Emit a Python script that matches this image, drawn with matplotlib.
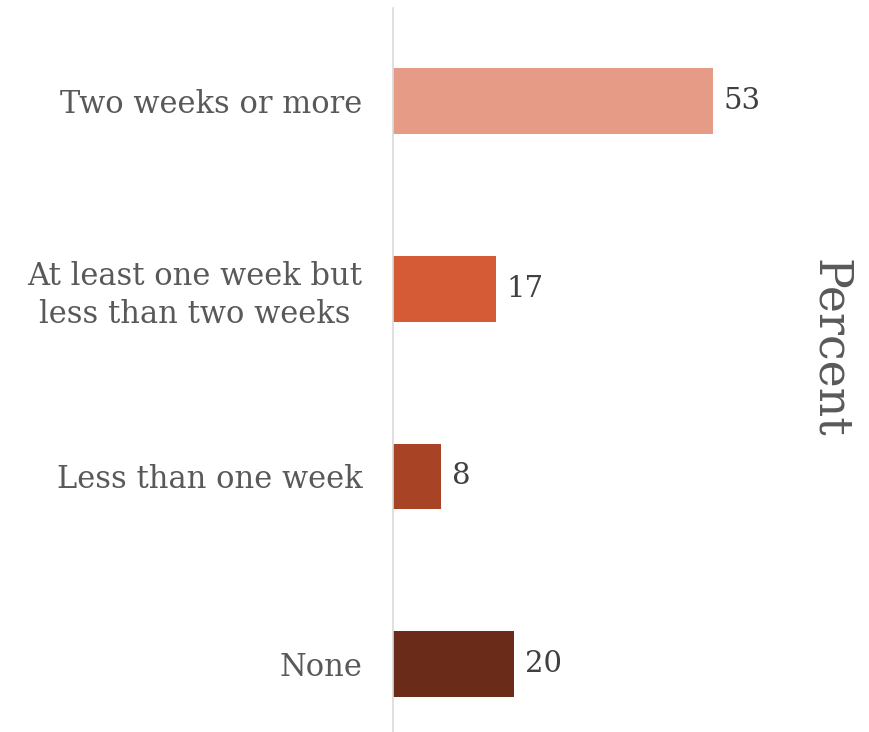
import matplotlib
matplotlib.use("Agg")
import matplotlib.pyplot as plt

categories = ["Two weeks or more",
              "At least one week but\nless than two weeks",
              "Less than one week",
              "None"]
values = [53, 17, 8, 20]
colors = ["#E69B87", "#D45B35", "#A84325", "#6B2B19"]

plt.rcParams['font.family'] = ['DejaVu Serif']

fig = plt.figure(figsize=(8.69, 7.32), dpi=100)
ax = fig.add_axes([0.452, 0.0, 0.518, 0.989])

pos = list(range(len(categories)))
ax.barh(pos, values, height=0.35, color=colors)
ax.set_ylim(3.362, -0.495)
ax.set_xlim(0, 74.5)

for p, v in zip(pos, values):
    ax.text(v + 1.8, p, str(v), va='center', ha='left', fontsize=21, color='#404040')

ax.set_yticks(pos)
ax.set_yticklabels(categories, fontsize=22, color='#595959',
                   multialignment='center', linespacing=1.3)
ax.tick_params(axis='y', length=0, pad=22)
ax.set_xticks([])

for s in ['top', 'right', 'bottom']:
    ax.spines[s].set_visible(False)
ax.spines['left'].set_color('#d9d9d9')
ax.spines['left'].set_linewidth(1.2)

# 縦書きラベル
fig.text(830 / 869, 1 - 348 / 732, "Percent", rotation=270, ha='center', va='center',
         fontsize=33, color='#595959')

fig.savefig("out.png", dpi=100)
